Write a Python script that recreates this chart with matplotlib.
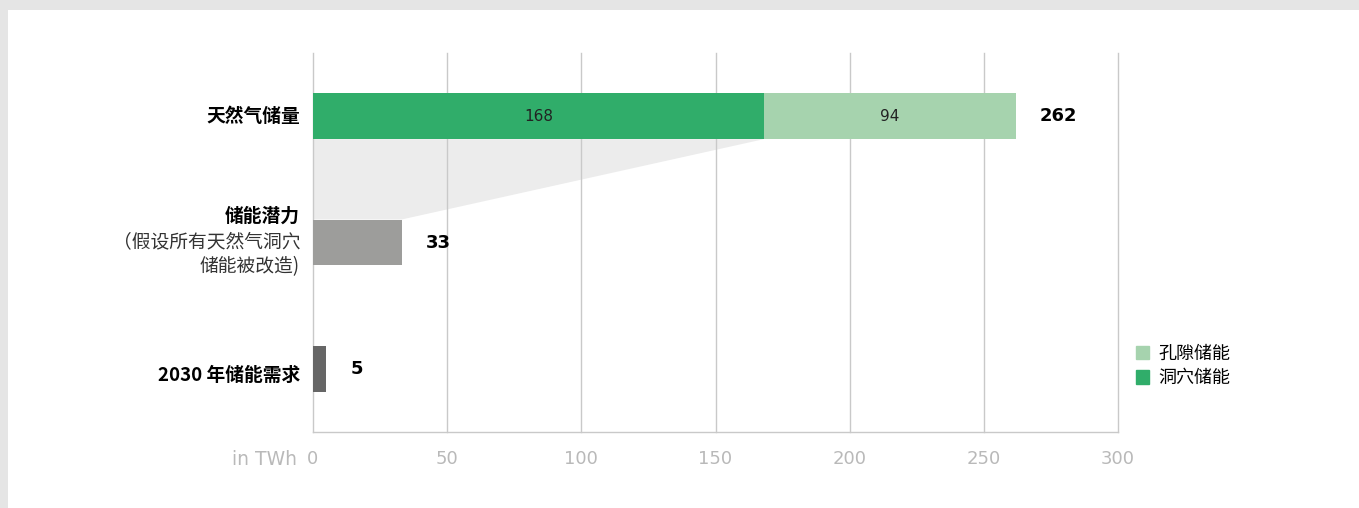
import matplotlib
matplotlib.use('Agg')
import matplotlib.pyplot as plt
from matplotlib.patches import Rectangle, Polygon

CJK = ['Noto Sans CJK SC', 'DejaVu Sans']
plt.rcParams['font.family'] = CJK

# data (TWh)
categories = ['天然气储量', '储能潜力', '2030 年储能需求']
cavern = [168, 0, 0]
pore = [94, 0, 0]
potential = 33
demand = 5
totals = [262, 33, 5]
ticks = [0, 50, 100, 150, 200, 250, 300]
legend_labels = ['孔隙储能', '洞穴储能']

c_cavern = '#30ad6a'
c_pore = '#a6d3ae'
c_potential = '#9d9d9b'
c_demand = '#666666'
c_grid = '#c9c9c9'
c_tick = '#b9b9b9'

fig = plt.figure(figsize=(13.59, 5.08), dpi=100)
fig.patch.set_facecolor('#e5e5e5')
bg = fig.add_axes([8 / 1359, 0, 1, 498 / 508], zorder=-10)
bg.set_axis_off()
bg.add_patch(Rectangle((0, 0), 1, 1, transform=bg.transAxes,
                       facecolor='white', edgecolor='none'))

ax = fig.add_axes([313 / 1359, 76 / 508, 805 / 1359, 379 / 508])
ax.set_facecolor('none')

ypos = [2, 1, 0]
h = 0.364

# funnel from cavern storage to potential
poly = Polygon([(0, 2 - h / 2), (cavern[0], 2 - h / 2),
                (potential, 1 + h / 2), (0, 1 + h / 2)],
               closed=True, facecolor='#ececec', edgecolor='none', zorder=0.5)
ax.add_patch(poly)

for t in ticks:
    ax.axvline(t, color=c_grid, lw=1, zorder=1, clip_on=False)

ax.barh(ypos[0], cavern[0], height=h, color=c_cavern, zorder=2)
ax.barh(ypos[0], pore[0], left=cavern[0], height=h, color=c_pore, zorder=2)
ax.barh(ypos[1], potential, height=h, color=c_potential, zorder=2)
ax.barh(ypos[2], demand, height=h, color=c_demand, zorder=2)

ax.text(cavern[0] / 2, ypos[0], str(cavern[0]), ha='center', va='center',
        fontsize=11, color='#222222', family='DejaVu Sans', zorder=3)
ax.text(cavern[0] + pore[0] / 2, ypos[0], str(pore[0]), ha='center', va='center',
        fontsize=11, color='#222222', family='DejaVu Sans', zorder=3)

for y, v in zip(ypos, totals):
    ax.annotate(str(v), (v, y), xytext=(24, 0), textcoords='offset pixels',
                ha='left', va='center', fontsize=13, fontweight='bold',
                color='black', family='DejaVu Sans')

ax.set_xlim(0, 300)
ax.set_ylim(-0.5, 2.5)
ax.set_xticks(ticks)
ax.set_xticklabels([str(t) for t in ticks], color=c_tick, fontsize=13,
                   family='DejaVu Sans')
ax.tick_params(axis='x', length=0, pad=13)
ax.set_yticks([])
for side in ['top', 'right', 'left']:
    ax.spines[side].set_visible(False)
ax.spines['bottom'].set_color(c_grid)
ax.spines['bottom'].set_linewidth(1)

# category labels
tr = ax.get_yaxis_transform()
lx = -0.016
ax.text(lx, ypos[0], categories[0], transform=tr, ha='right', va='center',
        fontsize=13.5, fontweight='bold')
ax.text(lx, ypos[1] + 0.21, categories[1], transform=tr, ha='right',
        va='center', fontsize=13.5, fontweight='bold')
ax.text(lx, ypos[1] - 0.09, '（假设所有天然气洞穴\n储能被改造)', transform=tr,
        ha='right', va='center', fontsize=13.5, linespacing=1.25,
        color='#333333')
ax.text(lx, ypos[2] - 0.05, categories[2], transform=tr, ha='right',
        va='center', fontsize=13.5, fontweight='bold')

ax.text(-0.02, -0.072, 'in TWh', transform=ax.transAxes, ha='right', va='center',
        fontsize=13.5, color=c_tick, family='DejaVu Sans')

# legend
handles = [Rectangle((0, 0), 1, 1, color=c_pore), Rectangle((0, 0), 1, 1, color=c_cavern)]
ax.legend(handles, legend_labels, loc='lower left', bbox_to_anchor=(1.002, 0.075),
          frameon=False, fontsize=13, handlelength=0.75, handleheight=0.75,
          handletextpad=0.5, labelspacing=0.35)

fig.savefig('out.png', dpi=100, facecolor=fig.get_facecolor())
